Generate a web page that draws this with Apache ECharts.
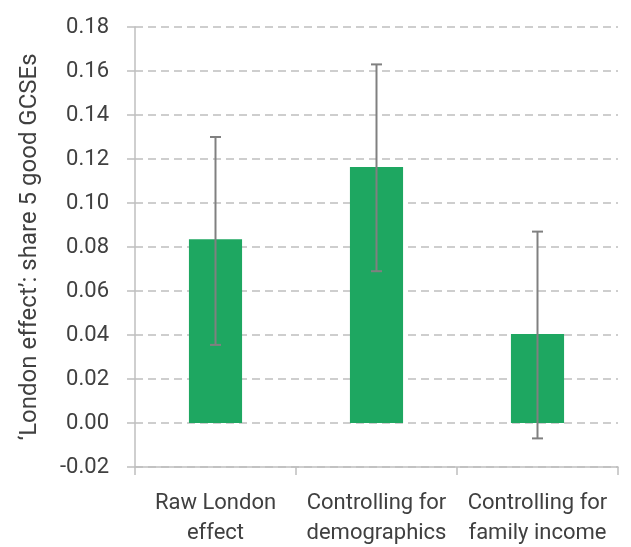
<!DOCTYPE html>
<html>
<head>
<meta charset="utf-8">
<script src="https://cdn.jsdelivr.net/npm/echarts@6/dist/echarts.min.js"></script>
<style>
html,body{margin:0;padding:0;background:#fff;}
#c{width:631px;height:547px;}
</style>
</head>
<body>
<div id="c"></div>
<script>
const categories = ['Raw London\neffect', 'Controlling for\ndemographics', 'Controlling for\nfamily income'];
const values = [0.0835, 0.1164, 0.0405];
const errLow = [0.0355, 0.069, -0.007];
const errHigh = [0.130, 0.163, 0.087];
const yTitle = '\u2018London effect\u2019: share 5 good GCSEs';

const FONT = 'Roboto';
const TXT = '#404040';
const AX = '#bfbfbf';

const chart = echarts.init(document.getElementById('c'), null, {renderer: 'canvas'});
chart.setOption({
  animation: false,
  backgroundColor: '#fff',
  grid: {left: 135, right: 13, top: 27, bottom: 80, containLabel: false, outerBoundsMode: 'none'},
  xAxis: [
    {
      type: 'category', data: categories, position: 'bottom',
      axisLine: {show: false}, axisTick: {show: false}, splitLine: {show: false},
      axisLabel: {color: TXT, fontFamily: FONT, fontSize: 22, lineHeight: 30, margin: 21, interval: 0}
    },
    {
      type: 'category', data: categories, position: 'bottom',
      axisLine: {show: true, onZero: true, lineStyle: {color: AX, width: 1.5}},
      axisTick: {show: true, length: 8, lineStyle: {color: AX, width: 1.5}},
      axisLabel: {show: false}, splitLine: {show: false}
    }
  ],
  yAxis: {
    type: 'value', min: -0.02, max: 0.18, interval: 0.02,
    name: yTitle, nameLocation: 'middle', nameGap: 93, nameRotate: 90,
    nameTextStyle: {color: TXT, fontFamily: FONT, fontSize: 24},
    axisLine: {show: true, lineStyle: {color: AX, width: 1.5}},
    axisTick: {show: true, length: 8, lineStyle: {color: AX, width: 1.5}},
    axisLabel: {color: TXT, fontFamily: FONT, fontSize: 22, margin: 26,
      formatter: v => v.toFixed(2)},
    splitLine: {show: true, lineStyle: {color: AX, type: [8, 5], width: 1.5}}
  },
  series: [
    {
      type: 'bar', data: values, barWidth: '33%', xAxisIndex: 0,
      itemStyle: {color: '#1ea761'}
    },
    {
      type: 'custom', xAxisIndex: 0,
      data: categories.map((c, i) => [i, errLow[i], errHigh[i]]),
      renderItem: function (params, api) {
        const i = api.value(0);
        const lo = api.coord([i, api.value(1)]);
        const hi = api.coord([i, api.value(2)]);
        const hw = 5.5;
        const st = {stroke: '#808080', lineWidth: 2};
        return {
          type: 'group',
          children: [
            {type: 'line', shape: {x1: hi[0], y1: hi[1], x2: lo[0], y2: lo[1]}, style: st},
            {type: 'line', shape: {x1: hi[0] - hw, y1: hi[1], x2: hi[0] + hw, y2: hi[1]}, style: st},
            {type: 'line', shape: {x1: lo[0] - hw, y1: lo[1], x2: lo[0] + hw, y2: lo[1]}, style: st}
          ]
        };
      },
      z: 10
    }
  ]
});
</script>
</body>
</html>
